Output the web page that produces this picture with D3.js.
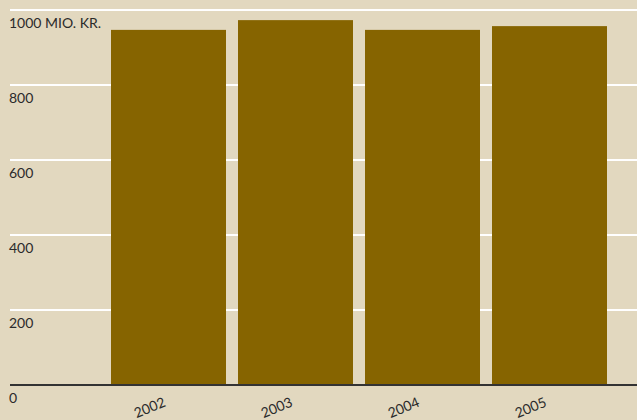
<!DOCTYPE html>
<html>
<head>
<meta charset="utf-8">
<script src="https://cdn.jsdelivr.net/npm/d3@7"></script>
<style>
  html, body { margin: 0; padding: 0; background: #e2d8bf; }
  svg { display: block; }
</style>
</head>
<body>
<div id="chart"></div>
<script>
var width  = 637;
var height = 420;

// Data
var years  = ["2002", "2003", "2004", "2005"];
var values = [947, 973, 947, 957];
var ticks  = [0, 200, 400, 600, 800, 1000];
var unit   = "MIO. KR.";

var x = d3.scaleBand()
          .domain(years)
          .range([111, 607])
          .paddingInner(0.0945)
          .paddingOuter(0);

var y = d3.scaleLinear()
          .domain([0, 1000])
          .range([385, 10]);

var svg = d3.select('#chart')
            .append('svg')
            .attr('width', width)
            .attr('height', height)
            .style('font-family', 'Lato, "DejaVu Sans", sans-serif');

svg.append('rect')
   .attr('width', width)
   .attr('height', height)
   .attr('fill', '#e2d8bf');

// gridlines (white), skip zero
svg.selectAll('.grid')
   .data(ticks.filter(function(t) { return t > 0; }))
   .enter()
   .append('line')
   .attr('class', 'grid')
   .attr('x1', 10)
   .attr('x2', width)
   .attr('y1', function(d) { return y(d); })
   .attr('y2', function(d) { return y(d); })
   .style('stroke', '#fff')
   .style('stroke-width', 2);

// tick labels sit below their gridline
svg.selectAll('.ylab')
   .data(ticks)
   .enter()
   .append('text')
   .attr('class', 'ylab')
   .attr('x', 9)
   .attr('y', function(d) { return y(d) + 18; })
   .style('font-size', '14px')
   .style('fill', '#2b2b2b')
   .text(function(d) { return d === 1000 ? d + ' ' + unit : d; });

// bars
svg.selectAll('.bar')
   .data(values)
   .enter()
   .append('rect')
   .attr('class', 'bar')
   .attr('x', function(d, i) { return x(years[i]); })
   .attr('y', function(d) { return y(d); })
   .attr('width', x.bandwidth())
   .attr('height', function(d) { return y(0) - y(d); })
   .style('fill', '#866400');

// baseline
svg.append('line')
   .attr('x1', 10)
   .attr('x2', width)
   .attr('y1', y(0))
   .attr('y2', y(0))
   .style('stroke', '#333')
   .style('stroke-width', 2);

// year labels, slanted
svg.selectAll('.xlab')
   .data(years)
   .enter()
   .append('text')
   .attr('class', 'xlab')
   .attr('text-anchor', 'end')
   .attr('transform', function(d) {
     return 'translate(' + (x(d) + x.bandwidth() / 2 - 2) + ',406)rotate(-22)';
   })
   .style('font-size', '14px')
   .style('fill', '#2b2b2b')
   .text(function(d) { return d; });
</script>
</body>
</html>
